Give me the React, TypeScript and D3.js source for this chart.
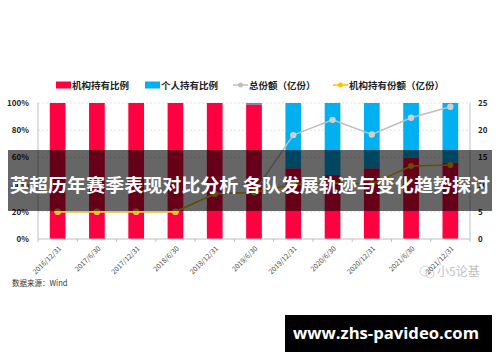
import * as d3 from "d3"

const categories = [
  "2016/12/31",
  "2017/6/30",
  "2017/12/31",
  "2018/6/30",
  "2018/12/31",
  "2019/6/30",
  "2019/12/31",
  "2020/6/30",
  "2020/12/31",
  "2021/6/30",
  "2021/12/31",
]
const instPct = [100, 100, 100, 100, 100, 99, 52, 47, 52, 60, 56]
const indivPct = instPct.map((v) => 100 - v)
const totalShares = [5, 5, 5, 5, 8.3, 8.6, 19.1, 21.9, 19.2, 22.3, 24.3]
const instShares = [5, 5, 5, 5, 8.3, 8.6, 10.0, 10.3, 10.1, 13.4, 13.6]
const leftTicks = [0, 20, 40, 60, 80, 100]
const rightTicks = [0, 5, 10, 15, 20, 25]

const RED = "#FF0040"
const BLUE = "#00B0F0"
const GRAY = "#BFBFBF"
const GOLD = "#FFC000"
const FONT = "'Noto Sans CJK SC', 'Noto Sans', sans-serif"

export default function App() {
  const width = 500
  const height = 362
  const margin = {top: 103, right: 30, bottom: 123, left: 38}
  const x0 = margin.left
  const x1 = width - margin.right
  const y0 = height - margin.bottom
  const y1 = margin.top

  const x = d3.scaleBand().domain(categories).range([x0, x1]).paddingInner(0.6).paddingOuter(0.3)
  const yPct = d3.scaleLinear().domain([0, 100]).range([y0, y1])
  const yShares = d3.scaleLinear().domain([0, 25]).range([y0, y1])
  const cx = (c: string) => x(c)! + x.bandwidth() / 2

  const line = d3
    .line<number>()
    .x((_, i) => cx(categories[i]))
    .y((d) => yShares(d))

  const legend = [
    {label: "机构持有比例", x: 56, kind: "rect", color: RED},
    {label: "个人持有比例", x: 145, kind: "rect", color: BLUE},
    {label: "总份额（亿份）", x: 233, kind: "line", color: GRAY},
    {label: "机构持有份额（亿份）", x: 333, kind: "line", color: GOLD},
  ]

  // category boundaries for the small ticks on the x axis
  const boundaries = d3.range(categories.length + 1).map((i) => x0 + (x1 - x0) * (i / categories.length))

  return (
    <svg
      width={width}
      height={height}
      style={{position: "absolute", left: 0, top: 0, background: "#fff"}}
      fontFamily={FONT}
    >
      <rect width={width} height={height} fill="#fff" />

      {/* legend */}
      {legend.map((d) => (
        <g key={d.label} transform={`translate(${d.x},85)`}>
          {d.kind === "rect" ? (
            <rect x={0} y={-3.5} width={15} height={7} fill={d.color} />
          ) : (
            <g>
              <line x1={0} x2={15} y1={0} y2={0} stroke={d.color} strokeWidth={1.5} />
              <circle cx={7.5} cy={0} r={2.5} fill={d.color} />
            </g>
          )}
          <text x={16} y={3.5} fontSize={9.5} fontWeight="bold" fill="#222">
            {d.label}
          </text>
        </g>
      ))}

      {/* grid */}
      {leftTicks.slice(1).map((t) => (
        <line key={t} x1={x0} x2={x1} y1={yPct(t)} y2={yPct(t)} stroke="#d9d9d9" strokeDasharray="2,2" strokeWidth={0.8} />
      ))}

      {/* bars */}
      {categories.map((c, i) => (
        <g key={c}>
          <rect x={x(c)} width={x.bandwidth()} y={yPct(instPct[i])} height={y0 - yPct(instPct[i])} fill={RED} />
          <rect
            x={x(c)}
            width={x.bandwidth()}
            y={yPct(100)}
            height={yPct(100 - indivPct[i]) - yPct(100)}
            fill={BLUE}
          />
        </g>
      ))}

      {/* axes */}
      <line x1={x0} x2={x0} y1={y1} y2={y0} stroke="#bfbfbf" />
      <line x1={x1} x2={x1} y1={y1} y2={y0} stroke="#bfbfbf" />
      <line x1={x0} x2={x1} y1={y0} y2={y0} stroke="#bfbfbf" />
      {boundaries.map((b, i) => (
        <line key={i} x1={b} x2={b} y1={y0} y2={y0 + 3} stroke="#bfbfbf" />
      ))}
      {leftTicks.map((t) => (
        <text key={t} x={x0 - 9} y={yPct(t) + 3} fontSize={8} fontWeight="bold" textAnchor="end" fill="#222">
          {t}%
        </text>
      ))}
      {rightTicks.map((t) => (
        <text key={t} x={x1 + 8} y={yShares(t) + 3} fontSize={8} fontWeight="bold" fill="#222">
          {t}
        </text>
      ))}
      {categories.map((c) => (
        <text
          key={c}
          transform={`translate(${cx(c) + 4},${y0 + 10}) rotate(-45)`}
          fontSize={7}
          textAnchor="end"
          fill="#444"
        >
          {c}
        </text>
      ))}

      {/* lines */}
      <path d={line(totalShares)!} fill="none" stroke={GRAY} strokeWidth={1.5} />
      {totalShares.map((v, i) => (
        <circle key={i} cx={cx(categories[i])} cy={yShares(v)} r={3.2} fill="#d0d0d0" />
      ))}
      <path d={line(instShares)!} fill="none" stroke={GOLD} strokeWidth={1.5} />
      {instShares.map((v, i) => (
        <circle key={i} cx={cx(categories[i])} cy={yShares(v)} r={3} fill={GOLD} />
      ))}

      {/* source */}
      <text x={12} y={286} fontSize={7.5} fill="#333">
        数据来源：Wind
      </text>

      {/* wechat watermark */}
      <g opacity={0.45}>
        <circle cx={425} cy={271} r={5} fill="none" stroke="#888" strokeWidth={0.8} />
        <circle cx={430} cy={274} r={4} fill="none" stroke="#888" strokeWidth={0.8} />
        <text x={437} y={276} fontSize={12} fill="#777">
          小5论基
        </text>
      </g>

      {/* overlay title band */}
      <rect x={8} y={150} width={484} height={61} fill="#000" opacity={0.6} />
      <text
        x={250}
        y={192}
        fontSize={18.5}
        fontWeight="bold"
        fill="#fff"
        textAnchor="middle"
        textLength={480}
        lengthAdjust="spacingAndGlyphs"
      >
        英超历年赛季表现对比分析 各队发展轨迹与变化趋势探讨
      </text>

      {/* site badge */}
      <rect x={285} y={315} width={207} height={37} fill="#000" />
      <text
        x={386}
        y={339}
        fontSize={16}
        fontWeight="bold"
        fill="#fff"
        textAnchor="middle"
        textLength={186}
        lengthAdjust="spacingAndGlyphs"
        fontFamily="'Open Sans', 'DejaVu Sans', sans-serif"
      >
        www.zhs-pavideo.com
      </text>
    </svg>
  )
}
